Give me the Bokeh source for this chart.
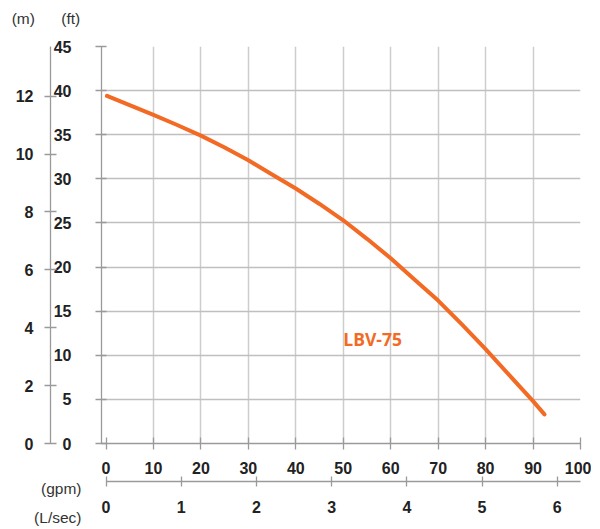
from bokeh.plotting import figure
from bokeh.models import (Range1d, LinearAxis, FixedTicker)
from bokeh.core.properties import value
from bokeh.embed import file_html
from bokeh.resources import INLINE

# ---- data ----
flow_gpm = [0.2, 10, 15, 20, 25, 30, 35, 40, 45, 50, 55, 60, 65, 70, 75, 80, 85, 90, 92.4]
head_ft = [39.4, 37.25, 36.1, 34.9, 33.55, 32.1, 30.5, 28.9, 27.15, 25.3, 23.2, 21.0,
           18.6, 16.2, 13.5, 10.7, 7.75, 4.8, 3.3]
series_name = "LBV-75"

gpm_ticks = [0, 10, 20, 30, 40, 50, 60, 70, 80, 90, 100]
lsec_ticks = [0, 1, 2, 3, 4, 5, 6]
ft_ticks = [0, 5, 10, 15, 20, 25, 30, 35, 40, 45]
m_ticks = [0, 2, 4, 6, 8, 10, 12]

GPM_TO_LSEC = 0.0630902
FT_TO_M = 0.3048

x_start, x_end = -0.95, 100
y_start, y_end = 0, 45

TICK_FONT = "Liberation Sans"
ORANGE = "#f26a24"
AXIS_GRAY = "#9a9a9a"

p = figure(frame_width=479, frame_height=397,
           min_border_left=101, min_border_right=11,
           min_border_top=46, min_border_bottom=84,
           x_range=Range1d(x_start, x_end), y_range=Range1d(y_start, y_end),
           output_backend="svg", toolbar_location=None,
           background_fill_color="white", border_fill_color="white")
p.outline_line_color = None

p.extra_x_ranges = {"lsec": Range1d(x_start * GPM_TO_LSEC, x_end * GPM_TO_LSEC)}
p.extra_y_ranges = {"m": Range1d(y_start * FT_TO_M, y_end * FT_TO_M)}

# grids
p.xgrid.ticker = FixedTicker(ticks=gpm_ticks[1:])
p.ygrid.ticker = FixedTicker(ticks=ft_ticks[1:])
p.xgrid.grid_line_color = "#cdcdcd"
p.xgrid.grid_line_width = 1.5
p.ygrid.grid_line_color = "#bfbfbf"
p.ygrid.grid_line_width = 1.5


def style_axis(ax, tin, tout, standoff):
    ax.axis_line_color = AXIS_GRAY
    ax.axis_line_width = 1.3
    ax.major_tick_line_color = AXIS_GRAY
    ax.major_tick_line_width = 1.3
    ax.major_tick_in = tin
    ax.major_tick_out = tout
    ax.minor_tick_line_color = None
    ax.major_label_text_font = TICK_FONT
    ax.major_label_text_font_style = "bold"
    ax.major_label_text_font_size = "16px"
    ax.major_label_text_color = "#222222"
    ax.major_label_standoff = standoff


# ft axis (adjacent to frame)
ya = p.yaxis[0]
ya.ticker = FixedTicker(ticks=ft_ticks)
style_axis(ya, 5, 6, 24)

# m axis (outer left)
m_axis = LinearAxis(y_range_name="m", ticker=FixedTicker(ticks=m_ticks))
style_axis(m_axis, 6, 6, 11)
p.add_layout(m_axis, "left")

# gpm axis
xa = p.xaxis[0]
xa.ticker = FixedTicker(ticks=gpm_ticks)
style_axis(xa, 6, 6, 12)
# invisible spacer label to push the L/sec axis down a little
xa.axis_label = "\u00a0"
xa.axis_label_text_font_size = "6px"
xa.axis_label_standoff = -4

# L/sec axis (outer bottom)
l_axis = LinearAxis(x_range_name="lsec", ticker=FixedTicker(ticks=lsec_ticks),
                    bounds=(0, x_end * GPM_TO_LSEC))
style_axis(l_axis, 5, 5, 14)
p.add_layout(l_axis, "below")

# curve
p.line(flow_gpm, head_ft, line_color=ORANGE, line_width=4,
       line_cap="round", line_join="round")

# series label
p.text(x=[50], y=[11.9], text=[series_name], text_font=value("Open Sans"),
       text_font_style="bold", text_font_size="17.5px",
       text_color=ORANGE, text_align="left", text_baseline="middle")

# unit labels (drawn at overlay level so they may sit outside the frame)
unit_common = dict(text_font=value(TICK_FONT), text_font_size="15.5px",
                   text_color="#333333", text_baseline="middle", level="overlay")
p.text(x=[-17.43, -7.42], y=[48.23, 48.23], text=["(m)", "(ft)"],
       text_align="center", **unit_common)
p.text(x=[-5.17, -5.17], y=[-5.13, -8.35], text=["(gpm)", "(L/sec)"],
       text_align="right", **unit_common)

open("out.html", "w").write(file_html(p, INLINE))
